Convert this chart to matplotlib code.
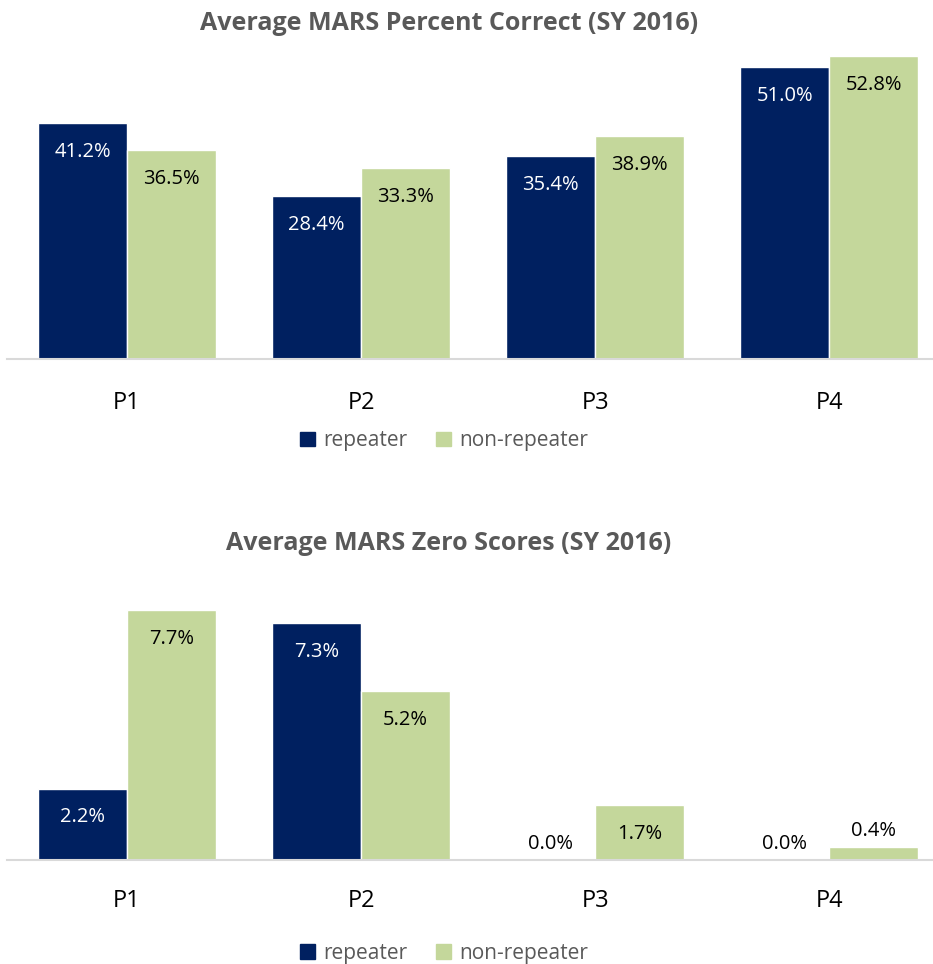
import numpy as np
import matplotlib.pyplot as plt
from matplotlib.patches import Patch

categories = ['P1', 'P2', 'P3', 'P4']
pct_repeater = [41.2, 28.4, 35.4, 51.0]
pct_non_repeater = [36.5, 33.3, 38.9, 52.8]
zero_repeater = [2.2, 7.3, 0.0, 0.0]
zero_non_repeater = [7.7, 5.2, 1.7, 0.4]

NAVY = '#002060'
GREEN = '#C4D79B'
GRAY = '#595959'

plt.rcParams['font.family'] = ['Open Sans', 'DejaVu Sans']

fig = plt.figure(figsize=(9.33, 9.64), dpi=100)
W, H = 933, 964


def px_axes(left, top, right, bottom):
    # axes placed by pixel edges measured from the top-left corner
    return fig.add_axes([left / W, 1 - bottom / H, (right - left) / W, (bottom - top) / H])


def draw_panel(ax, rep, nonrep, ymax, title, title_y, tick_pad, legend_y):
    x = np.arange(len(categories))
    w = 0.38
    b1 = ax.bar(x - w / 2, rep, w, color=NAVY, edgecolor='white', linewidth=1)
    b2 = ax.bar(x + w / 2, nonrep, w, color=GREEN, edgecolor='white', linewidth=1)
    ax.set_xlim(-0.513, 3.444)
    ax.set_ylim(0, ymax)
    ax.set_xticks(x)
    ax.set_xticklabels(categories, fontsize=17, color='black')
    ax.tick_params(axis='x', length=0, pad=tick_pad)
    ax.set_yticks([])
    for s in ['top', 'right', 'left']:
        ax.spines[s].set_visible(False)
    ax.spines['bottom'].set_color('#D9D9D9')
    ax.spines['bottom'].set_linewidth(1.5)

    for bars, vals, tc in [(b1, rep, 'white'), (b2, nonrep, 'black')]:
        for bar, v in zip(bars, vals):
            cx = bar.get_x() + bar.get_width() / 2
            h_px = v / ymax * ax.get_window_extent().height
            if h_px > 45:
                ax.annotate(f'{v:.1f}%', (cx, v), xytext=(0, -29), textcoords='offset pixels',
                            ha='center', va='center', fontsize=14.5, color=tc)
            else:
                ax.annotate(f'{v:.1f}%', (cx, v), xytext=(0, 16), textcoords='offset pixels',
                            ha='center', va='center', fontsize=14.5, color='black')

    fig.text(449 / W, 1 - title_y / H, title, ha='center', va='center',
             fontsize=18, fontweight='bold', color=GRAY)
    handles = [Patch(color=NAVY, label='repeater'), Patch(color=GREEN, label='non-repeater')]
    fig.legend(handles=handles, loc='center', bbox_to_anchor=(444 / W, 1 - legend_y / H),
               ncol=2, frameon=False, fontsize=15, labelcolor=GRAY,
               handlelength=0.7, handleheight=0.7, handletextpad=0.4, columnspacing=1.4)


ax1 = px_axes(7, 45, 933, 359)
draw_panel(ax1, pct_repeater, pct_non_repeater, (359 - 45) / 5.73,
           'Average MARS Percent Correct (SY 2016)', 23, 23, 441)

ax2 = px_axes(7, 590, 933, 860)
draw_panel(ax2, zero_repeater, zero_non_repeater, (860 - 590) / 32.5,
           'Average MARS Zero Scores (SY 2016)', 543, 21, 953)

fig.savefig('out.png', dpi=100, facecolor='white')
